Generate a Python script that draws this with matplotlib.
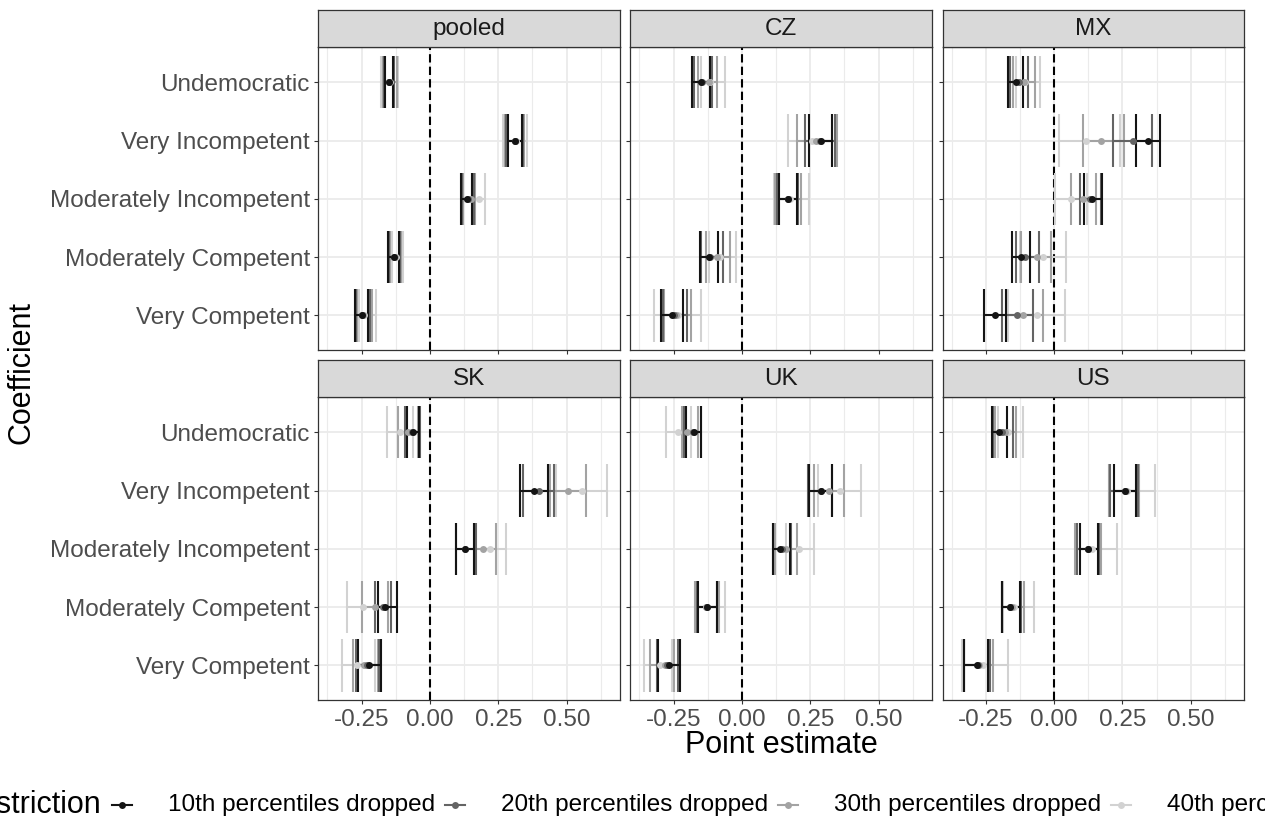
import matplotlib
matplotlib.use("Agg")
import matplotlib.pyplot as plt
from matplotlib.lines import Line2D

plt.rcParams['font.family'] = ['Liberation Sans', 'DejaVu Sans']

panels = ["pooled", "CZ", "MX", "SK", "UK", "US"]
coefs = ["Undemocratic", "Very Incompetent", "Moderately Incompetent",
         "Moderately Competent", "Very Competent"]
series = ["10th percentiles dropped", "20th percentiles dropped",
          "30th percentiles dropped", "40th percentiles dropped"]
colors = ["#141414", "#646464", "#A3A3A3", "#D2D2D2"]
xticks = [-0.25, 0.0, 0.25, 0.5]
xticklabels = ["-0.25", "0.00", "0.25", "0.50"]

# rows = panels, columns = coefs (top to bottom)
est_10 = [[-0.150, 0.310, 0.135, -0.133, -0.250],
          [-0.148, 0.288, 0.167, -0.122, -0.256],
          [-0.140, 0.342, 0.138, -0.120, -0.216],
          [-0.062, 0.380, 0.128, -0.163, -0.222],
          [-0.175, 0.288, 0.140, -0.128, -0.268],
          [-0.200, 0.260, 0.125, -0.162, -0.283]]
lo_10 = [[-0.163, 0.285, 0.115, -0.155, -0.272],
         [-0.182, 0.247, 0.134, -0.155, -0.296],
         [-0.167, 0.300, 0.111, -0.155, -0.258],
         [-0.085, 0.330, 0.095, -0.190, -0.262],
         [-0.204, 0.244, 0.113, -0.162, -0.305],
         [-0.228, 0.220, 0.095, -0.190, -0.330]]
hi_10 = [[-0.135, 0.335, 0.155, -0.112, -0.228],
         [-0.118, 0.329, 0.201, -0.089, -0.216],
         [-0.115, 0.387, 0.174, -0.088, -0.175],
         [-0.040, 0.430, 0.162, -0.122, -0.180],
         [-0.150, 0.331, 0.177, -0.090, -0.226],
         [-0.173, 0.300, 0.160, -0.125, -0.240]]

est_20 = [[-0.150, 0.310, 0.138, -0.131, -0.250],
          [-0.145, 0.285, 0.167, -0.115, -0.250],
          [-0.130, 0.290, 0.130, -0.105, -0.136],
          [-0.065, 0.400, 0.130, -0.170, -0.230],
          [-0.180, 0.290, 0.145, -0.128, -0.272],
          [-0.190, 0.260, 0.125, -0.160, -0.280]]
lo_20 = [[-0.168, 0.280, 0.118, -0.150, -0.270],
         [-0.175, 0.231, 0.128, -0.150, -0.290],
         [-0.160, 0.214, 0.093, -0.140, -0.190],
         [-0.090, 0.340, 0.097, -0.200, -0.270],
         [-0.210, 0.240, 0.115, -0.165, -0.310],
         [-0.225, 0.205, 0.085, -0.192, -0.330]]
hi_20 = [[-0.130, 0.340, 0.160, -0.110, -0.220],
         [-0.110, 0.340, 0.205, -0.070, -0.200],
         [-0.094, 0.357, 0.170, -0.054, -0.076],
         [-0.037, 0.455, 0.168, -0.144, -0.185],
         [-0.148, 0.330, 0.180, -0.090, -0.235],
         [-0.150, 0.305, 0.165, -0.120, -0.235]]

est_30 = [[-0.148, 0.310, 0.150, -0.128, -0.245],
          [-0.120, 0.270, 0.170, -0.090, -0.240],
          [-0.110, 0.171, 0.105, -0.063, -0.112],
          [-0.080, 0.505, 0.195, -0.200, -0.240],
          [-0.200, 0.320, 0.160, -0.130, -0.280],
          [-0.180, 0.262, 0.125, -0.155, -0.275]]
lo_30 = [[-0.172, 0.275, 0.120, -0.145, -0.265],
         [-0.160, 0.203, 0.120, -0.130, -0.285],
         [-0.150, 0.104, 0.062, -0.120, -0.175],
         [-0.116, 0.440, 0.160, -0.250, -0.280],
         [-0.220, 0.265, 0.120, -0.170, -0.335],
         [-0.215, 0.200, 0.077, -0.190, -0.330]]
hi_30 = [[-0.122, 0.345, 0.165, -0.105, -0.210],
         [-0.090, 0.347, 0.215, -0.045, -0.185],
         [-0.070, 0.256, 0.155, -0.010, -0.039],
         [-0.045, 0.569, 0.240, -0.155, -0.190],
         [-0.160, 0.374, 0.201, -0.085, -0.250],
         [-0.139, 0.310, 0.170, -0.110, -0.225]]

est_40 = [[-0.147, 0.315, 0.178, -0.125, -0.240],
          [-0.115, 0.255, 0.175, -0.080, -0.235],
          [-0.105, 0.117, 0.060, -0.040, -0.063],
          [-0.110, 0.555, 0.220, -0.246, -0.265],
          [-0.232, 0.360, 0.210, -0.130, -0.300],
          [-0.170, 0.265, 0.140, -0.145, -0.260]]
lo_40 = [[-0.177, 0.268, 0.155, -0.140, -0.260],
         [-0.150, 0.167, 0.116, -0.120, -0.320],
         [-0.140, 0.019, 0.004, -0.125, -0.170],
         [-0.158, 0.460, 0.165, -0.302, -0.322],
         [-0.277, 0.280, 0.160, -0.170, -0.357],
         [-0.205, 0.200, 0.080, -0.185, -0.335]]
hi_40 = [[-0.115, 0.355, 0.203, -0.098, -0.196],
         [-0.062, 0.345, 0.247, -0.020, -0.150],
         [-0.050, 0.241, 0.120, 0.044, 0.040],
         [-0.060, 0.646, 0.280, -0.190, -0.200],
         [-0.185, 0.436, 0.264, -0.062, -0.255],
         [-0.112, 0.369, 0.229, -0.072, -0.167]]

ests = [est_10, est_20, est_30, est_40]
los = [lo_10, lo_20, lo_30, lo_40]
his = [hi_10, hi_20, hi_30, hi_40]

W, H = 1265, 822
fig = plt.figure(figsize=(W / 100, H / 100), dpi=100)


def box(x0, y0, x1, y1):
    # pixel box -> figure fraction
    return [x0 / W, 1 - y1 / H, (x1 - x0) / W, (y1 - y0) / H]


col_x = [318.3, 630.3, 942.5]
pw = 301.7
row_y = [47.3, 397.3]
ph = 303.0
sh = 37.5

yy = list(range(len(coefs)))
for p, name in enumerate(panels):
    r, c = p // 3, p % 3
    x0, y0 = col_x[c], row_y[r]
    ax = fig.add_axes(box(x0, y0, x0 + pw, y0 + ph))
    ax.set_xlim(-0.408, 0.695)
    ax.set_ylim(len(coefs) - 0.4, -0.6)
    ax.set_xticks(xticks)
    ax.set_xticks([-0.375, -0.125, 0.125, 0.375, 0.625], minor=True)
    ax.set_yticks(yy)
    ax.grid(True, which="major", color="#EBEBEB", lw=1.3)
    ax.grid(True, which="minor", axis="x", color="#EBEBEB", lw=0.8)
    ax.set_axisbelow(True)
    ax.tick_params(which="minor", length=0)
    ax.tick_params(which="major", length=3, width=0.8, color="#333333",
                   labelsize=17.5, labelcolor="#4D4D4D", pad=3)
    if r == 1:
        ax.set_xticklabels(xticklabels)
    else:
        ax.tick_params(axis="x", which="major", labelbottom=False)
    if c == 0:
        ax.set_yticklabels(coefs)
    else:
        ax.tick_params(axis="y", which="major", labelleft=False)
    for s in ax.spines.values():
        s.set_color("#333333")
        s.set_linewidth(0.9)

    ax.axvline(0, color="black", lw=1.5, ls=(0, (4, 2)), zorder=2)

    # lightest first so that the 10th sits on top
    for k in range(len(series) - 1, -1, -1):
        e = ests[k][p]
        lo = los[k][p]
        hi = his[k][p]
        ax.hlines(yy, lo, hi, color=colors[k], lw=1.5, zorder=3)
        ax.vlines(lo, [v - 0.45 for v in yy], [v + 0.45 for v in yy],
                  color=colors[k], lw=1.5, zorder=3)
        ax.vlines(hi, [v - 0.45 for v in yy], [v + 0.45 for v in yy],
                  color=colors[k], lw=1.5, zorder=3)
        ax.plot(e, yy, "o", color=colors[k], ms=5, mew=0, zorder=4)

    # facet strip
    sax = fig.add_axes(box(x0, y0 - sh, x0 + pw, y0))
    sax.set_facecolor("#D9D9D9")
    sax.set_xticks([])
    sax.set_yticks([])
    for s in sax.spines.values():
        s.set_color("#333333")
        s.set_linewidth(0.9)
    sax.text(0.5, 0.5, name, ha="center", va="center", fontsize=17.5,
             color="#1A1A1A", transform=sax.transAxes)

fig.text(781 / W, 1 - 745 / H, "Point estimate", ha="center", va="center",
         fontsize=22)
fig.text(22 / W, 1 - 373 / H, "Coefficient", ha="center", va="center",
         fontsize=22, rotation=90)

# legend at the bottom, wider than the figure so both ends are clipped
ly = 1 - 805 / H
fig.text(101 / W, ly, "Restriction", ha="right", va="center", fontsize=22)
key_x = [122, 455, 788, 1121]
for k, lab in enumerate(series):
    cx = key_x[k]
    fig.add_artist(Line2D([(cx - 10) / W, (cx + 10) / W], [ly, ly],
                          transform=fig.transFigure, color=colors[k], lw=1.5))
    fig.add_artist(Line2D([cx / W], [ly], transform=fig.transFigure,
                          marker="o", ms=5, mew=0, color=colors[k]))
    fig.text((cx + 46) / W, ly, lab, ha="left", va="center", fontsize=17.5)

fig.savefig("out.png", dpi=100)
